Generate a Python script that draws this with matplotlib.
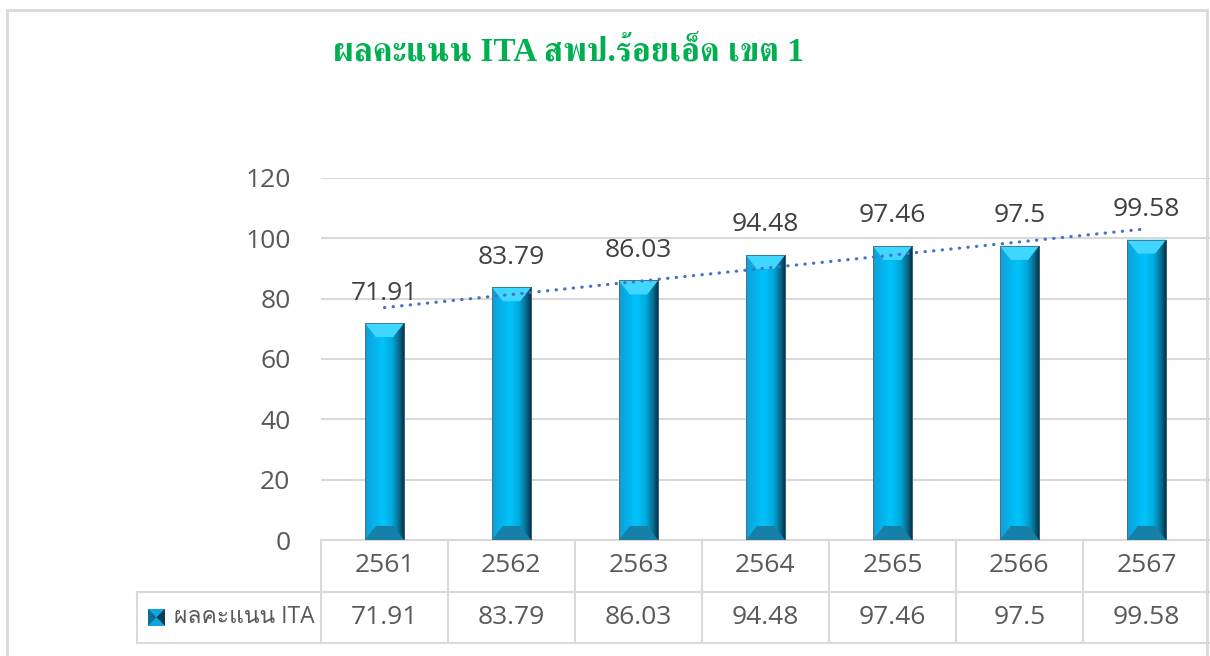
import matplotlib
matplotlib.use("Agg")
import matplotlib.pyplot as plt
import numpy as np
from matplotlib import font_manager, ft2font
from matplotlib.colors import LinearSegmentedColormap
from matplotlib.patches import Polygon, Rectangle

years = ["2561", "2562", "2563", "2564", "2565", "2566", "2567"]
scores = [71.91, 83.79, 86.03, 94.48, 97.46, 97.5, 99.58]
series_name = "ผลคะแนน ITA"
title = "ผลคะแนน ITA สพป.ร้อยเอ็ด เขต 1"
yticks = [0, 20, 40, 60, 80, 100, 120]

GREY = "#595959"
GRID = "#d9d9d9"


def thai_fonts():
    names = []
    for f in font_manager.fontManager.ttflist:
        try:
            cmap = ft2font.FT2Font(f.fname).get_charmap()
        except Exception:
            continue
        if 0x0E1C in cmap and f.name not in names:
            names.append(f.name)
    return names


thai = thai_fonts()
thai_name = "Loma" if "Loma" in thai else (thai[0] if thai else "DejaVu Sans")
title_font = "FreeSerif" if "FreeSerif" in thai else thai_name

fig = plt.figure(figsize=(12.1, 6.56), dpi=100)
ax = fig.add_axes([321 / 1210, 116 / 656, 889 / 1210, 362 / 656])

x = np.arange(len(years))
bars = ax.bar(x, scores, width=0.31, color="none", zorder=3)

# horizontal gradient + bevel for each bar
stops = [(0.0, "#2a94c8"), (0.08, "#0aa6e0"), (0.45, "#00c3fa"),
         (0.68, "#00aadd"), (0.86, "#0a6a8c"), (1.0, "#082836")]
cmap = LinearSegmentedColormap.from_list("bar", stops)
grad = np.linspace(0, 1, 256).reshape(1, -1)
bevel = 14 / 362 * 120
for b in bars:
    x0, w, h = b.get_x(), b.get_width(), b.get_height()
    im = ax.imshow(grad, cmap=cmap, aspect="auto", extent=(x0, x0 + w, 0, h),
                   zorder=3)
    im.set_clip_path(b)
    ins = w * 0.28
    ax.add_patch(Polygon([(x0, h), (x0 + w, h), (x0 + w - ins, h - bevel),
                          (x0 + ins, h - bevel)], closed=True,
                         facecolor="#3fd6ff", edgecolor="none", zorder=4))
    ax.add_patch(Polygon([(x0, 0), (x0 + w, 0), (x0 + w - ins, bevel),
                          (x0 + ins, bevel)], closed=True,
                         facecolor="#1780a8", edgecolor="none", zorder=4))
    ax.add_patch(Rectangle((x0, 0), w, h, facecolor="none",
                           edgecolor="#3d6f86", linewidth=0.6, zorder=5))

# data labels
for xi, v in zip(x, scores):
    ax.annotate(f"{v:g}", (xi, v), xytext=(0, 30), textcoords="offset pixels",
                ha="center", va="center", fontsize=19, color="#404040",
                family="Open Sans", zorder=6)

# linear trendline
k, c = np.polyfit(x + 1, scores, 1)
ax.plot(x, k * (x + 1) + c, linestyle=(0, (0.1, 2.6)), color="#4472C4",
        linewidth=2.3, dash_capstyle="round", zorder=6)

ax.set_xlim(-0.5, 6.5)
ax.set_ylim(0, 120)
ax.set_yticks(yticks)
ax.set_yticklabels([str(t) for t in yticks], fontsize=19, color=GREY,
                   family="Open Sans")
ax.tick_params(axis="y", length=0, pad=22)
ax.set_xticks([])
ax.yaxis.grid(True, color=GRID, linewidth=1.5)
ax.set_axisbelow(True)
for s in ax.spines.values():
    s.set_visible(False)

# data table below the plot
tr = ax.get_xaxis_transform()
r = 51.5 / 362
leg_left = -0.5 - 184 / 127
lkw = dict(color=GRID, linewidth=1.5, transform=tr, clip_on=False)
ax.plot([-0.5, 6.6], [0, 0], **lkw)
ax.plot([leg_left, 6.6], [-r, -r], **lkw)
ax.plot([leg_left, 6.6], [-2 * r, -2 * r], **lkw)
for i in range(len(years)):
    ax.plot([i - 0.5, i - 0.5], [0, -2 * r], **lkw)
ax.plot([leg_left, leg_left], [-r, -2 * r], **lkw)
for i, (yr, v) in enumerate(zip(years, scores)):
    ax.text(i, -r / 2, yr, transform=tr, ha="center", va="center",
            fontsize=19, color=GREY, family="Open Sans")
    ax.text(i, -1.5 * r, f"{v:g}", transform=tr, ha="center", va="center",
            fontsize=19, color=GREY, family="Open Sans")

# legend key in the table
kx, kw, kh = leg_left + 11 / 127, 17 / 127, 17 / 362
ky = -1.5 * r - kh / 2
ax.add_patch(Rectangle((kx, ky), kw, kh, facecolor="#12a6e0", edgecolor="none",
                       transform=tr, clip_on=False))
ax.add_patch(Polygon([(kx, ky), (kx, ky + kh), (kx + kw / 2, ky + kh / 2)],
                     facecolor="#0b6d95", transform=tr, clip_on=False))
ax.add_patch(Polygon([(kx + kw, ky), (kx + kw, ky + kh), (kx + kw / 2, ky + kh / 2)],
                     facecolor="#0a3f58", transform=tr, clip_on=False))
ax.text(kx + kw + 9 / 127, -1.5 * r, series_name, transform=tr, ha="left",
        va="center", fontsize=16.5, color=GREY, family=["Open Sans", thai_name])

# title
fig.text(568 / 1210, 1 - 52 / 656, title, ha="center", va="center",
         fontsize=24, fontweight="bold", color="#00B050",
         family=["Liberation Serif", title_font])

# chart frame
fig.patches.append(Rectangle((7 / 1210, -0.1), 1200 / 1210, 1.1 - 10 / 656,
                             transform=fig.transFigure, facecolor="none",
                             edgecolor=GRID, linewidth=2))

fig.savefig("out.png", dpi=100)
